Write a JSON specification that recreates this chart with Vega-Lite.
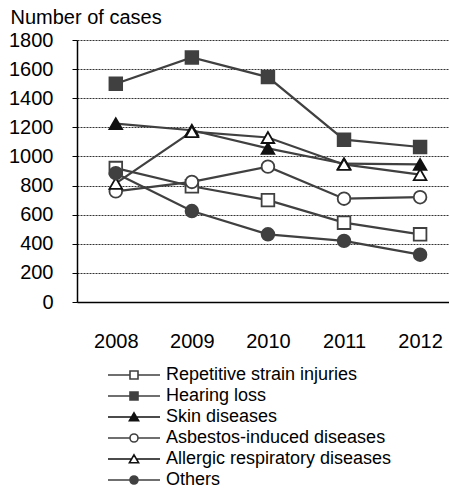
{
  "$schema": "https://vega.github.io/schema/vega-lite/v6.json",
  "autosize": "none",
  "width": 372,
  "height": 262,
  "padding": {"left": 77, "top": 40, "right": 0, "bottom": 189},
  "background": "white",
  "config": {
    "view": {"stroke": null},
    "font": "Liberation Sans, Arial, sans-serif"
  },
  "data": {
    "values": [
      {"series": "Repetitive strain injuries", "year": 2008, "cases": 920},
      {"series": "Repetitive strain injuries", "year": 2009, "cases": 795},
      {"series": "Repetitive strain injuries", "year": 2010, "cases": 700},
      {"series": "Repetitive strain injuries", "year": 2011, "cases": 545},
      {"series": "Repetitive strain injuries", "year": 2012, "cases": 465},
      {"series": "Hearing loss", "year": 2008, "cases": 1500},
      {"series": "Hearing loss", "year": 2009, "cases": 1680},
      {"series": "Hearing loss", "year": 2010, "cases": 1545},
      {"series": "Hearing loss", "year": 2011, "cases": 1115},
      {"series": "Hearing loss", "year": 2012, "cases": 1065},
      {"series": "Skin diseases", "year": 2008, "cases": 1225},
      {"series": "Skin diseases", "year": 2009, "cases": 1180},
      {"series": "Skin diseases", "year": 2010, "cases": 1055},
      {"series": "Skin diseases", "year": 2011, "cases": 950},
      {"series": "Skin diseases", "year": 2012, "cases": 945},
      {"series": "Asbestos-induced diseases", "year": 2008, "cases": 760},
      {"series": "Asbestos-induced diseases", "year": 2009, "cases": 825},
      {"series": "Asbestos-induced diseases", "year": 2010, "cases": 930},
      {"series": "Asbestos-induced diseases", "year": 2011, "cases": 710},
      {"series": "Asbestos-induced diseases", "year": 2012, "cases": 720},
      {"series": "Allergic respiratory diseases", "year": 2008, "cases": 815},
      {"series": "Allergic respiratory diseases", "year": 2009, "cases": 1170},
      {"series": "Allergic respiratory diseases", "year": 2010, "cases": 1130},
      {"series": "Allergic respiratory diseases", "year": 2011, "cases": 945},
      {"series": "Allergic respiratory diseases", "year": 2012, "cases": 875},
      {"series": "Others", "year": 2008, "cases": 885},
      {"series": "Others", "year": 2009, "cases": 625},
      {"series": "Others", "year": 2010, "cases": 465},
      {"series": "Others", "year": 2011, "cases": 420},
      {"series": "Others", "year": 2012, "cases": 325}
    ]
  },
  "encoding": {
    "x": {
      "field": "year",
      "type": "quantitative",
      "scale": {"domain": [2007.49, 2012.38], "nice": false, "zero": false},
      "axis": {
        "values": [2008, 2009, 2010, 2011, 2012],
        "format": "d",
        "title": null,
        "grid": false,
        "ticks": false,
        "tickSize": 0,
        "labelBaseline": "alphabetic",
        "labelPadding": 45,
        "labelFontSize": 20,
        "labelColor": "#000000",
        "labelFlush": false,
        "domainColor": "#000000",
        "domainWidth": 1.5
      }
    },
    "y": {
      "field": "cases",
      "type": "quantitative",
      "scale": {"domain": [0, 1800], "nice": false},
      "axis": {
        "values": [0, 200, 400, 600, 800, 1000, 1200, 1400, 1600, 1800],
        "format": "d",
        "title": "Number of cases",
        "titleAngle": 0,
        "titleX": -67,
        "titleY": -17,
        "titleAlign": "left",
        "titleBaseline": "alphabetic",
        "titleFontSize": 20,
        "titleFontWeight": "normal",
        "titleColor": "#000000",
        "labelFontSize": 20,
        "labelColor": "#000000",
        "labelPadding": 19,
        "tickSize": 5,
        "tickColor": "#000000",
        "tickWidth": 1,
        "domainColor": "#000000",
        "domainWidth": 1.5,
        "grid": true,
        "gridColor": "#333333",
        "gridDash": [2, 1],
        "gridWidth": 1,
        "gridOpacity": 1
      }
    }
  },
  "layer": [
    {
      "mark": {"type": "line", "color": "#404040", "strokeWidth": 2.2},
      "encoding": {"detail": {"field": "series"}}
    },
    {
      "mark": {"type": "point", "filled": false, "size": 160, "strokeWidth": 1.8, "opacity": 1},
      "encoding": {
        "shape": {
          "field": "series",
          "type": "nominal",
          "scale": {
            "domain": ["Repetitive strain injuries", "Hearing loss", "Skin diseases", "Asbestos-induced diseases", "Allergic respiratory diseases", "Others"],
            "range": ["square", "square", "triangle-up", "circle", "triangle-up", "circle"]
          },
          "legend": null
        },
        "fill": {
          "field": "series",
          "type": "nominal",
          "scale": {
            "domain": ["Repetitive strain injuries", "Hearing loss", "Skin diseases", "Asbestos-induced diseases", "Allergic respiratory diseases", "Others"],
            "range": ["#ffffff", "#404040", "#111111", "#ffffff", "#ffffff", "#404040"]
          },
          "legend": null
        },
        "stroke": {
          "field": "series",
          "type": "nominal",
          "scale": {
            "domain": ["Repetitive strain injuries", "Hearing loss", "Skin diseases", "Asbestos-induced diseases", "Allergic respiratory diseases", "Others"],
            "range": ["#404040", "#404040", "#111111", "#404040", "#111111", "#404040"]
          },
          "legend": null
        }
      }
    },
    {
      "transform": [{"filter": "datum.year > 3000"}],
      "mark": {"type": "point", "filled": false, "strokeWidth": 1.6, "opacity": 1},
      "encoding": {
        "shape": {
          "field": "series",
          "type": "nominal",
          "scale": {
            "domain": ["Repetitive strain injuries", "Hearing loss", "Skin diseases", "Asbestos-induced diseases", "Allergic respiratory diseases", "Others"],
            "range": [
              "M-6.5,0H-1M1,0H6.5M-1,-1H1V1H-1Z",
              "M-6.5,0H-1M1,0H6.5M-1,-1H1V1H-1Z",
              "M-6.5,0H-0.58M0.58,0H6.5M0,-1.05L1.15,0.95H-1.15Z",
              "M-6.5,0H-1M1,0H6.5M-1,0A1,1 0 1,0 1,0A1,1 0 1,0 -1,0Z",
              "M-6.5,0H-0.58M0.58,0H6.5M0,-1.05L1.15,0.95H-1.15Z",
              "M-6.5,0H-1M1,0H6.5M-1,0A1,1 0 1,0 1,0A1,1 0 1,0 -1,0Z"
            ]
          },
          "legend": {
            "orient": "none",
            "legendX": 48,
            "legendY": 326,
            "title": null,
            "padding": 0,
            "symbolSize": 64,
            "symbolStrokeWidth": 1.6,
            "labelOffset": 23,
            "labelFontSize": 18,
            "labelColor": "#000000",
            "labelLimit": 400,
            "rowPadding": 3,
            "symbolOpacity": 1
          }
        },
        "fill": {
          "field": "series",
          "type": "nominal",
          "scale": {
            "domain": ["Repetitive strain injuries", "Hearing loss", "Skin diseases", "Asbestos-induced diseases", "Allergic respiratory diseases", "Others"],
            "range": ["#ffffff", "#404040", "#111111", "#ffffff", "#ffffff", "#404040"]
          }
        },
        "stroke": {
          "field": "series",
          "type": "nominal",
          "scale": {
            "domain": ["Repetitive strain injuries", "Hearing loss", "Skin diseases", "Asbestos-induced diseases", "Allergic respiratory diseases", "Others"],
            "range": ["#404040", "#404040", "#111111", "#404040", "#111111", "#404040"]
          }
        }
      }
    }
  ],
  "resolve": {
    "scale": {"shape": "independent", "fill": "independent", "stroke": "independent"},
    "legend": {"shape": "independent", "fill": "independent", "stroke": "independent"}
  }
}
